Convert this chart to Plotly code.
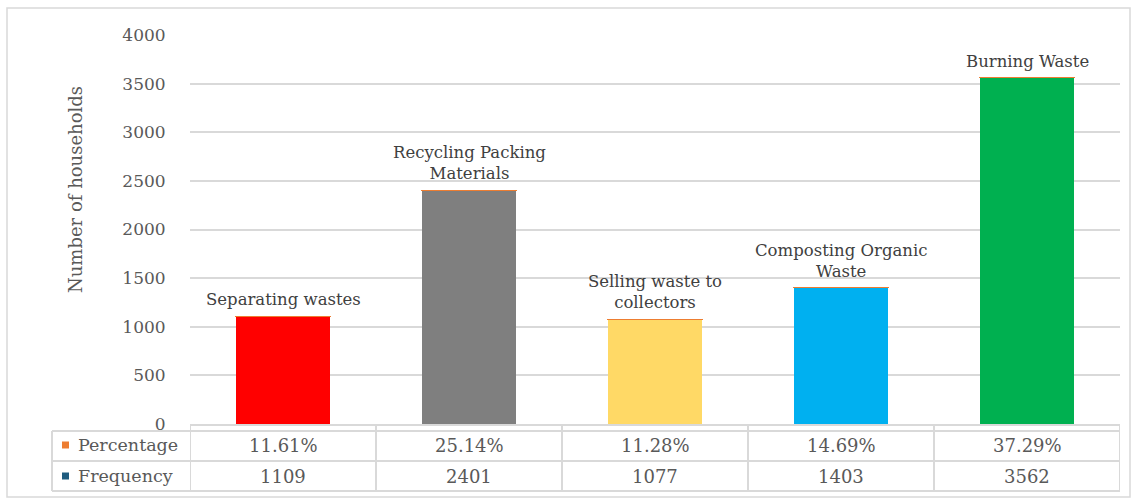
import plotly.graph_objects as go

categories = ["Separating wastes", "Recycling Packing<br>Materials", "Selling waste to<br>collectors",
              "Composting Organic<br>Waste", "Burning Waste"]
frequency = [1109, 2401, 1077, 1403, 3562]
percentage = [0.1161, 0.2514, 0.1128, 0.1469, 0.3729]
bar_colors = ["#FF0000", "#7F7F7F", "#FFD966", "#00B0F0", "#00B050"]
y_ticks = [0, 500, 1000, 1500, 2000, 2500, 3000, 3500, 4000]
y_title = "Number of households"

FONT = "DejaVu Serif"
TXT = "#595959"
LINE = "#D9D9D9"

xs = list(range(len(categories)))

fig = go.Figure()
fig.add_trace(go.Bar(x=xs, y=frequency, marker=dict(color=bar_colors, line=dict(width=0)),
                     width=0.51, name="Frequency", showlegend=False))
fig.add_trace(go.Bar(x=xs, y=percentage, marker=dict(color="#ED7D31", line=dict(width=1.2, color="#ED7D31")),
                     width=0.51, name="Percentage", showlegend=False))

# category labels above bars
for i, c in enumerate(categories):
    fig.add_annotation(x=i, y=frequency[i] + percentage[i], text=c, showarrow=False,
                       yanchor="bottom", yshift=5, font=dict(family=FONT, size=16.5, color="#404040"))

# data table
ppx = 1 / 389.0
def py(px):
    return (424 - px) * ppx
pxx = 1 / 930.0
def pxp(px):
    return (px - 190) * pxx

row1 = py(445)
row2 = py(476)
for i in xs:
    fig.add_annotation(x=i, xref="x", y=row1, yref="paper", text=f"{percentage[i]*100:.2f}%",
                       showarrow=False, yanchor="middle", xanchor="center",
                       font=dict(family=FONT, size=18, color=TXT))
    fig.add_annotation(x=i, xref="x", y=row2, yref="paper", text=str(frequency[i]), showarrow=False,
                       yanchor="middle", xanchor="center",
                       font=dict(family=FONT, size=18, color=TXT))

for name, yy, col in [("Percentage", row1, "#ED7D31"), ("Frequency", row2, "#1F5C7F")]:
    fig.add_annotation(x=pxp(76), xref="paper", y=yy, yref="paper", text=name, showarrow=False,
                       xanchor="left", yanchor="middle", font=dict(family=FONT, size=17.5, color=TXT))
    fig.add_shape(type="rect", xref="paper", yref="paper", x0=pxp(62), x1=pxp(69),
                  y0=yy - 3.5 * ppx, y1=yy + 3.5 * ppx, fillcolor=col, line=dict(width=0))

lw = 2
for yy in [py(431), py(461), py(491)]:
    fig.add_shape(type="line", xref="paper", yref="paper", x0=pxp(52), x1=1, y0=yy, y1=yy,
                  line=dict(color=LINE, width=lw))
fig.add_shape(type="line", xref="paper", yref="paper", x0=pxp(52), x1=pxp(52), y0=py(431), y1=py(491),
              line=dict(color=LINE, width=lw))
for b in [-0.5, 0.5, 1.5, 2.5, 3.5, 4.5]:
    fig.add_shape(type="line", xref="x", yref="paper", x0=b, x1=b, y0=0, y1=py(491),
                  line=dict(color=LINE, width=lw))
fig.add_shape(type="rect", xref="paper", yref="paper", x0=pxp(7), x1=pxp(1130), y0=py(497), y1=py(8),
              line=dict(color=LINE, width=1.5), fillcolor="rgba(0,0,0,0)")

# y-axis title
fig.add_annotation(x=pxp(75), xref="paper", y=py(190), yref="paper", text=y_title, showarrow=False,
                   textangle=-90, xanchor="center", yanchor="middle",
                   font=dict(family=FONT, size=18, color=TXT))

fig.update_layout(
    width=1136, height=499,
    margin=dict(l=190, r=16, t=35, b=75),
    barmode="stack", bargap=0.49,
    plot_bgcolor="white", paper_bgcolor="white",
    showlegend=False,
    font=dict(family=FONT, color=TXT),
)
fig.update_xaxes(range=[-0.5, 4.5], showticklabels=False, showgrid=False, zeroline=False,
                 showline=True, linecolor=LINE, linewidth=2, ticks="")
fig.update_yaxes(range=[0, 4000], tickvals=y_ticks, showgrid=True, gridcolor=LINE, gridwidth=1.5,
                 zeroline=False, ticks="outside", ticklen=20, tickcolor="rgba(0,0,0,0)",
                 tickfont=dict(family=FONT, size=17, color=TXT))

fig.write_html("out.html")
